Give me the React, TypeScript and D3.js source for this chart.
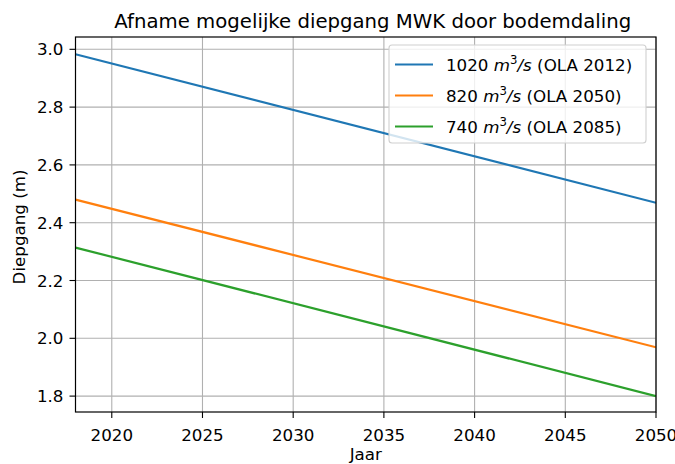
import React from "react";
import * as d3 from "d3";

const years = [2018, 2050];
const series1020 = [2.983, 2.469];
const series820 = [2.48, 1.969];
const series740 = [2.314, 1.8];
const seriesNames = ["1020", "820", "740"];
const seriesSuffix = [" (OLA 2012)", " (OLA 2050)", " (OLA 2085)"];
const colors = ["#1f77b4", "#ff7f0e", "#2ca02c"];
const xTicks = [2020, 2025, 2030, 2035, 2040, 2045, 2050];
const yTicks = [1.8, 2.0, 2.2, 2.4, 2.6, 2.8, 3.0];

const W = 675, H = 464;
const L = 75.5, R = 656, T = 37, B = 412;
const FS = 16.7;

export default function App() {
  const x = d3.scaleLinear().domain([2018, 2050]).range([L, R]);
  const y = d3.scaleLinear().domain([1.745, 3.0426]).range([B, T]);
  const line = d3.line<[number, number]>().x(d => x(d[0])).y(d => y(d[1]));
  const all = [series1020, series820, series740];
  const font = "DejaVu Sans, sans-serif";
  return (
    <svg width={W} height={H} style={{ position: "absolute", left: 0, top: 0, background: "#fff" }} fontFamily={font}>
      <rect x={0} y={0} width={W} height={H} fill="#fff" />
      <text x={(L + R) / 2 + 7} y={27.5} textAnchor="middle" fontSize={19.7} fill="#000">Afname mogelijke diepgang MWK door bodemdaling</text>
      {xTicks.map(t => (
        <g key={"x" + t}>
          <line x1={x(t)} x2={x(t)} y1={T} y2={B} stroke="#b0b0b0" strokeWidth={1.1} />
          <line x1={x(t)} x2={x(t)} y1={B} y2={B + 6} stroke="#000" strokeWidth={1.1} />
          <text x={x(t)} y={B + 29} textAnchor="middle" fontSize={FS} fill="#000">{t}</text>
        </g>
      ))}
      {yTicks.map(t => (
        <g key={"y" + t}>
          <line x1={L} x2={R} y1={y(t)} y2={y(t)} stroke="#b0b0b0" strokeWidth={1.1} />
          <line x1={L - 6} x2={L} y1={y(t)} y2={y(t)} stroke="#000" strokeWidth={1.1} />
          <text x={L - 12} y={y(t) + 6} textAnchor="end" fontSize={FS} fill="#000">{t.toFixed(1)}</text>
        </g>
      ))}
      <defs>
        <clipPath id="clip"><rect x={L} y={T} width={R - L} height={B - T} /></clipPath>
      </defs>
      <g clipPath="url(#clip)">
        {all.map((s, i) => (
          <path key={i} d={line(years.map((yr, j) => [yr, s[j]] as [number, number])) || ""} fill="none" stroke={colors[i]} strokeWidth={2.2} />
        ))}
      </g>
      <rect x={L} y={T} width={R - L} height={B - T} fill="none" stroke="#000" strokeWidth={1.2} />
      <text x={(L + R) / 2} y={460} textAnchor="middle" fontSize={FS} fill="#000">Jaar</text>
      <text transform={`translate(25,${227}) rotate(-90)`} textAnchor="middle" fontSize={FS} fill="#000">Diepgang (m)</text>
      <g>
        <rect x={389} y={45} width={257} height={98} rx={3} fill="#fff" fillOpacity={0.8} stroke="#d0d0d0" strokeWidth={1.1} />
        {seriesNames.map((n, i) => {
          const cy = 64.5 + i * 31;
          return (
            <g key={n}>
              <line x1={395} x2={433} y1={cy} y2={cy} stroke={colors[i]} strokeWidth={2.2} />
              <text x={446} y={cy + 6} fontSize={FS} fill="#000">
                {n + " "}
                <tspan fontStyle="italic">m</tspan>
                <tspan dy={-7} fontSize={11.7}>3</tspan>
                <tspan dy={7} fontStyle="italic">/s</tspan>
                <tspan>{seriesSuffix[i]}</tspan>
              </text>
            </g>
          );
        })}
      </g>
    </svg>
  );
}
